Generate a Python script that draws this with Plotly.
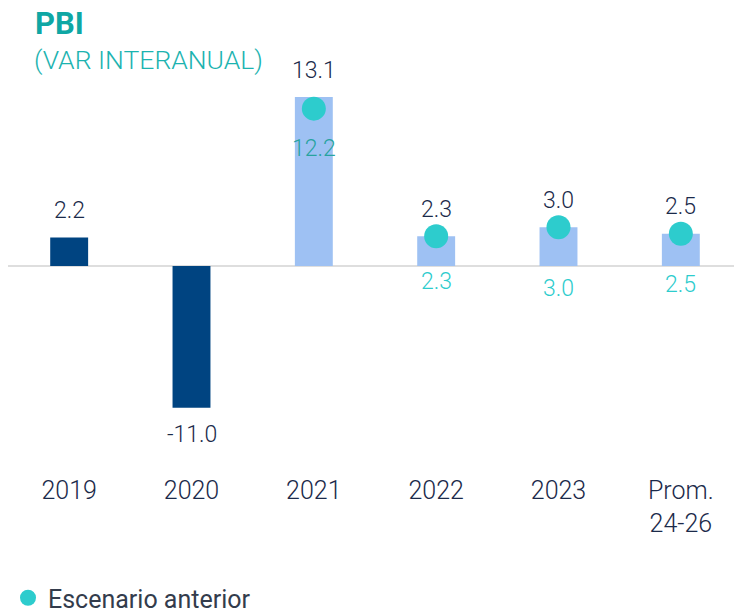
import plotly.graph_objects as go

categories = ["2019", "2020", "2021", "2022", "2023", "Prom.<br>24-26"]
actual_values = [2.2, -11.0, 13.1, 2.3, 3.0, 2.5]
bar_kind = ["hist", "hist", "proj", "proj", "proj", "proj"]
prev_categories = ["2021", "2022", "2023", "Prom.<br>24-26"]
prev_values = [12.2, 2.3, 3.0, 2.5]

# styles
DARK = "#004481"
LIGHT = "#9ec1f3"
AQUA = "#2dcccd"
NAVY_TXT = "#1b2a4a"
FONT = "Roboto"
prev_label_shift = [-40, -45, -61, -51]
prev_label_color = ["#27a39f", AQUA, AQUA, AQUA]

bar_colors = [DARK if k == "hist" else LIGHT for k in bar_kind]

fig = go.Figure()
fig.add_trace(go.Bar(
    x=categories, y=actual_values, marker=dict(color=bar_colors, line=dict(width=0)),
    width=0.31, showlegend=False, hoverinfo="skip"))
fig.add_trace(go.Scatter(
    x=prev_categories, y=prev_values, mode="markers",
    marker=dict(color=AQUA, size=24), name="Escenario anterior", hoverinfo="skip"))

annotations = []
for c, v in zip(categories, actual_values):
    annotations.append(dict(x=categories.index(c), y=v, text=f"{v:.1f}", showarrow=False,
                            yshift=27 if v >= 0 else -27,
                            font=dict(family=FONT, size=23, color=NAVY_TXT, weight=300)))
for c, v, s, col in zip(prev_categories, prev_values, prev_label_shift, prev_label_color):
    annotations.append(dict(x=categories.index(c), y=v, text=f"{v:.1f}", showarrow=False, yshift=s,
                            font=dict(family=FONT, size=23, color=col, weight=300)))

annotations.append(dict(xref="paper", yref="paper", x=(33 - 8) / 734, y=(465 - 24) / 385,
                        xanchor="left", yanchor="middle", text="<b>PBI</b>", showarrow=False,
                        font=dict(family=FONT, size=31, color="#0fa7a4")))
annotations.append(dict(xref="paper", yref="paper", x=(32 - 8) / 734, y=(465 - 60) / 385,
                        xanchor="left", yanchor="middle", text="(VAR INTERANUAL)", showarrow=False,
                        font=dict(family=FONT, size=26.5, color="#1cb3b0", weight=300)))

fig.update_layout(
    width=734, height=604,
    margin=dict(l=0, r=0, t=72, b=147, autoexpand=False),
    paper_bgcolor="white", plot_bgcolor="white",
    annotations=annotations,
    xaxis=dict(type="category", categoryorder="array", categoryarray=categories,
               range=[-0.5, len(categories) - 0.5], automargin=False,
               showgrid=False, showline=False, ticks="",
               tickfont=dict(family=FONT, size=25, color=NAVY_TXT, weight=300), ticklabelstandoff=8),
    yaxis=dict(range=[-15.43, 14.42], showgrid=False, showticklabels=False, automargin=False,
               zeroline=True, zerolinecolor="#dedede", zerolinewidth=1.5),
    legend=dict(orientation="h", x=(8 - 8) / 734, y=(465 - 598) / 385,
                xanchor="left", yanchor="middle",
                font=dict(family=FONT, size=25, color="#333c4c"),
                itemwidth=30),
)
fig.write_html("out.html")
